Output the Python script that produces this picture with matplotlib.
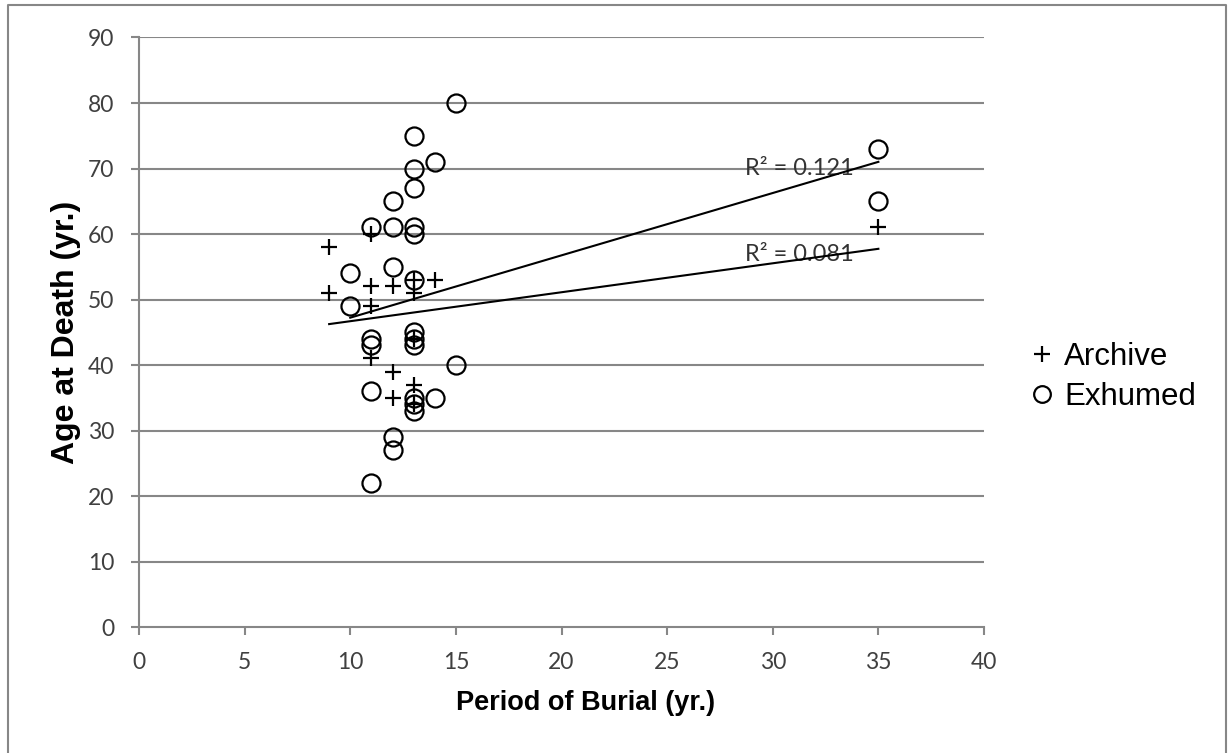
import numpy as np
import matplotlib
matplotlib.use("Agg")
import matplotlib.pyplot as plt
from matplotlib.lines import Line2D

archive_x = [9, 9, 11, 11, 11, 11, 12, 12, 12, 13, 13, 13, 13, 13, 14, 35]
archive_y = [58, 51, 60, 52, 49, 41, 52, 39, 35, 53, 51, 44, 37, 34, 53, 61]

exhumed_x = [10, 10, 11, 11, 11, 11, 11, 12, 12, 12, 12, 12, 13, 13, 13, 13, 13,
             13, 13, 13, 13, 13, 13, 13, 14, 14, 15, 15, 35, 35]
exhumed_y = [54, 49, 61, 44, 43, 36, 22, 65, 61, 55, 29, 27, 75, 70, 67, 61, 60,
             53, 45, 44, 43, 35, 34, 33, 71, 35, 80, 40, 73, 65]

r2_labels = ["R² = 0.121", "R² = 0.081"]
xticks = [0, 5, 10, 15, 20, 25, 30, 35, 40]
yticks = [0, 10, 20, 30, 40, 50, 60, 70, 80, 90]

fig = plt.figure(figsize=(12.28, 7.53), dpi=100)
ax = fig.add_axes([0.1132, 0.1673, 0.6881, 0.7829])

grid_c = "#878787"
for y in yticks[1:]:
    ax.axhline(y, color=grid_c, lw=1.5, zorder=0)

ax.plot(archive_x, archive_y, linestyle="none", marker="+", ms=11, mew=1.6,
        color="black", label="Archive", zorder=3)
ax.plot(exhumed_x, exhumed_y, linestyle="none", marker="o", ms=13, mew=1.6,
        mfc="none", mec="black", label="Exhumed", zorder=3)

# linear trend lines
for xs, ys in [(exhumed_x, exhumed_y), (archive_x, archive_y)]:
    xs = np.array(xs, float); ys = np.array(ys, float)
    m, b = np.polyfit(xs, ys, 1)
    xx = np.array([xs.min(), xs.max()])
    ax.plot(xx, m * xx + b, color="black", lw=1.5, zorder=2)

ax.text(28.7, 70.0, r2_labels[0], fontsize=17, family="Lato", color="#333333",
        va="center", ha="left", zorder=1)
ax.text(28.7, 56.9, r2_labels[1], fontsize=17, family="Lato", color="#333333",
        va="center", ha="left", zorder=1)

ax.set_xlim(0, 40)
ax.set_ylim(0, 90)
ax.set_xticks(xticks)
ax.set_yticks(yticks)
for lab in ax.get_xticklabels() + ax.get_yticklabels():
    lab.set_family("Lato")
    lab.set_fontsize(16.5)
    lab.set_color("#404040")
ax.tick_params(axis="both", direction="out", length=6, width=1.5, color=grid_c)
ax.tick_params(axis="x", pad=12)
ax.tick_params(axis="y", pad=12)

for s in ["top", "right"]:
    ax.spines[s].set_visible(False)
for s in ["left", "bottom"]:
    ax.spines[s].set_color(grid_c)
    ax.spines[s].set_linewidth(1.5)

ax.set_xlabel("Period of Burial (yr.)", fontsize=19.5, fontweight="bold",
              family="Liberation Sans")
ax.xaxis.set_label_coords(0.529, -0.129)
ax.xaxis.label.set_va("center")
ax.set_ylabel("Age at Death (yr.)", fontsize=23, fontweight="bold",
              family="Liberation Sans", labelpad=5)

handles = [Line2D([], [], linestyle="none", marker="+", ms=11, mew=1.6, color="black"),
           Line2D([], [], linestyle="none", marker="o", ms=12, mew=1.6, mfc="none", mec="black")]
fig.legend(handles, ["Archive", "Exhumed"], loc="center left",
           bbox_to_anchor=(0.817, 0.4993), frameon=False,
           prop={"family": "Liberation Sans", "size": 22.5},
           handlelength=0.7, handletextpad=0.35, labelspacing=0.3)

# outer chart border (bottom edge lies outside the image)
fig.add_artist(Line2D([0.0069, 0.0069, 0.9985, 0.9985], [0.0, 0.9934, 0.9934, 0.0],
                      transform=fig.transFigure, color=grid_c, lw=1.5))

fig.savefig("out.png", dpi=100)
